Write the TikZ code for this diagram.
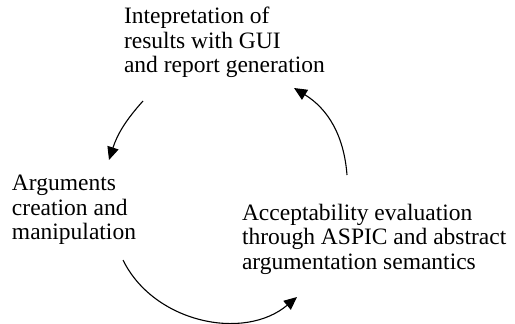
\documentclass[tikz,border=0pt]{standalone}
\usepackage{fontspec}
\setmainfont{Liberation Serif}
\usetikzlibrary{arrows.meta}

\begin{document}
\begin{tikzpicture}[x=1pt,y=-1pt]
  \tikzset{StepStyle/.style = {anchor         = north west,
                               align          = left,
                               inner sep      = 0pt,
                               outer sep      = 0pt,
                               font           = \fontsize{23.5}{24.5}\selectfont}}
  \tikzset{CycleArrow/.style = {line width     = 1.1pt,
                                -{Triangle[length=13pt,width=11.5pt]}}}

\useasboundingbox (0,0) rectangle (515,324);

\node[StepStyle] (Gui)  at (124,7)   {Intepretation of\\results with GUI\\and report generation};
\node[StepStyle] (Args) at (12,175)  {Arguments\\creation and\\manipulation};
\node[StepStyle] (Eval) at (242,204) {Acceptability evaluation\\through ASPIC and abstract\\argumentation semantics};

\coordinate (G1) at (143,101);
\coordinate (A1) at (109,160);
\coordinate (A2) at (123,260);
\coordinate (E1) at (297,297);
\coordinate (E2) at (347,175);
\coordinate (G2) at (294,88);

\draw[CycleArrow] (G1) to[bend right=12] (A1);
\draw[CycleArrow] (A2) to[bend right=52] (E1);
\draw[CycleArrow] (E2) to[bend right=27] (G2);
\end{tikzpicture}
\end{document}
